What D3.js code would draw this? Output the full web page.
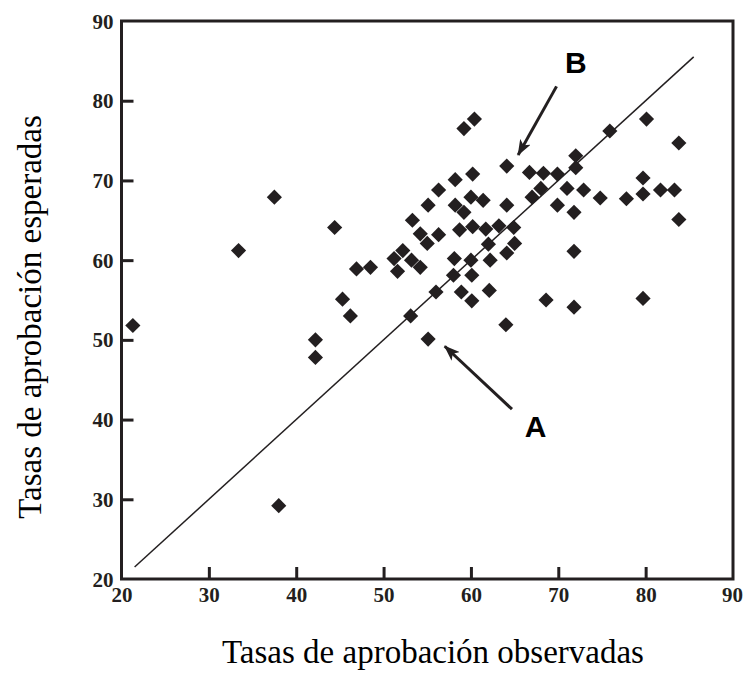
<!DOCTYPE html>
<html>
<head>
<meta charset="utf-8">
<script src="https://cdn.jsdelivr.net/npm/d3@7/dist/d3.min.js"></script>
<style>
  body { margin: 0; background: #fff; }
  svg { display: block; }
</style>
</head>
<body>
<svg class="scatter"></svg>
<script>
var obsRates = [21.3, 33.4, 37.5, 38.0, 42.2, 42.2, 44.4, 45.3, 46.2, 46.9,
                48.5, 51.2, 51.6, 52.2, 53.2, 53.3, 54.2, 54.2, 55.0, 55.1,
                56.3, 56.3, 53.1, 55.1, 56.0, 58.2, 58.2, 58.7, 58.1, 58.0,
                58.9, 59.2, 60.4, 60.2, 60.0, 59.2, 60.2, 60.0, 60.1, 60.1,
                61.4, 61.7, 62.0, 62.2, 62.1, 63.2, 64.1, 64.1, 64.9, 65.0,
                64.1, 64.0, 66.7, 68.3, 68.0, 67.0, 68.6, 69.9, 69.9, 71.0,
                72.0, 72.0, 72.9, 71.8, 71.8, 71.8, 74.8, 75.9, 77.8, 79.7,
                79.7, 80.1, 79.7, 81.7, 83.3, 83.8, 83.8];
var expRates = [51.8, 61.2, 67.9, 29.2, 50.0, 47.8, 64.1, 55.1, 53.0, 58.9,
                59.1, 60.2, 58.6, 61.2, 60.0, 65.0, 63.3, 59.1, 62.1, 66.9,
                63.2, 68.8, 53.0, 50.1, 56.0, 70.1, 66.9, 63.8, 60.2, 58.1,
                56.0, 76.5, 77.7, 70.8, 67.9, 66.0, 64.2, 60.0, 58.1, 54.9,
                67.5, 63.9, 62.0, 60.0, 56.2, 64.3, 71.8, 66.9, 64.1, 62.1,
                60.9, 51.9, 71.0, 70.9, 69.0, 67.9, 55.0, 70.8, 66.9, 69.0,
                73.1, 71.6, 68.8, 66.0, 61.1, 54.1, 67.8, 76.2, 67.7, 70.3,
                68.3, 77.7, 55.2, 68.8, 68.8, 74.7, 65.1];

var xTicks = [20, 30, 40, 50, 60, 70, 80, 90];
var yTicks = [20, 30, 40, 50, 60, 70, 80, 90];

// identity reference line (start, end)
var refLine = [21.5, 85.5];

// annotations: label, label pos, arrow tail, arrow tip (data units)
var noteLabels = ["B", "A"];
var noteLabelX = [72.0, 67.4];
var noteLabelY = [83.5, 37.8];
var arrowFromX = [69.8, 64.7];
var arrowFromY = [81.8, 41.3];
var arrowToX = [65.4, 57.0];
var arrowToY = [73.2, 49.2];

var xTitle = "Tasas de aprobación observadas";
var yTitle = "Tasas de aprobación esperadas";

var ink = "#231f20";

var margin = {top: 21, right: 11, bottom: 94, left: 121.5},
    width = 744 - margin.left - margin.right,
    height = 673 - margin.top - margin.bottom;

var svg = d3.select(".scatter")
    .attr("width", 744)
    .attr("height", 673);

var defs = svg.append("defs");
defs.append("marker")
    .attr("id", "arrowhead")
    .attr("markerUnits", "userSpaceOnUse")
    .attr("viewBox", "0 0 16 12")
    .attr("refX", 15)
    .attr("refY", 6)
    .attr("markerWidth", 16)
    .attr("markerHeight", 12)
    .attr("orient", "auto")
  .append("path")
    .attr("d", "M0,0 L16,6 L0,12 L4,6 Z")
    .attr("fill", ink);

var g = svg.append("g")
    .attr("transform", "translate(" + margin.left + "," + margin.top + ")");

var x = d3.scaleLinear()
    .domain([20, 90])
    .range([0, width]);

var y = d3.scaleLinear()
    .domain([20, 90])
    .range([height, 0]);

// axes with inward ticks
var xAxis = d3.axisBottom(x)
    .tickValues(xTicks)
    .tickFormat(d3.format("d"))
    .tickSizeInner(-12)
    .tickSizeOuter(0)
    .tickPadding(8);

var yAxis = d3.axisLeft(y)
    .tickValues(yTicks)
    .tickFormat(d3.format("d"))
    .tickSizeInner(-12)
    .tickSizeOuter(0)
    .tickPadding(8);

var gx = g.append("g")
    .attr("transform", "translate(0," + height + ")")
    .call(xAxis);

var gy = g.append("g")
    .call(yAxis);

[gx, gy].forEach(function(a){
  a.select(".domain").remove();
  a.selectAll(".tick line")
      .attr("stroke", ink)
      .attr("stroke-width", 3);
  a.selectAll(".tick text")
      .attr("fill", ink)
      .style("font-family", "'Liberation Serif', 'Times New Roman', serif")
      .style("font-weight", "bold")
      .style("font-size", "21px");
});
// end ticks sit on the frame
gx.selectAll(".tick line").filter(function(d){ return d == 20 || d == 90; }).remove();
gy.selectAll(".tick line").filter(function(d){ return d == 20 || d == 90; }).remove();
gy.selectAll(".tick text").attr("dy", "0.34em");
// keep last x label inside the page
gx.selectAll(".tick text").filter(function(d){ return d == 90; }).attr("dx", "-1");

// frame
g.append("rect")
    .attr("x", x(20))
    .attr("y", y(90))
    .attr("width", x(90) - x(20))
    .attr("height", y(20) - y(90))
    .attr("fill", "none")
    .attr("stroke", ink)
    .attr("stroke-width", 3);

// y = x line
g.append("line")
    .attr("x1", x(refLine[0]))
    .attr("y1", y(refLine[0]))
    .attr("x2", x(refLine[1]))
    .attr("y2", y(refLine[1]))
    .attr("stroke", ink)
    .attr("stroke-width", 1.5);

// points as diamonds
var diamond = d3.symbol().type(d3.symbolSquare).size(115);
g.selectAll(".pt")
    .data(obsRates)
    .enter().append("path")
    .attr("class", "pt")
    .attr("d", diamond)
    .attr("transform", function(d, i) {
      return "translate(" + x(d) + "," + y(expRates[i]) + ") rotate(45)";
    })
    .attr("fill", ink);

// arrows and letters
noteLabels.forEach(function(lbl, i){
  g.append("line")
      .attr("x1", x(arrowFromX[i]))
      .attr("y1", y(arrowFromY[i]))
      .attr("x2", x(arrowToX[i]))
      .attr("y2", y(arrowToY[i]))
      .attr("stroke", ink)
      .attr("stroke-width", 3)
      .attr("marker-end", "url(#arrowhead)");
  g.append("text")
      .attr("x", x(noteLabelX[i]))
      .attr("y", y(noteLabelY[i]))
      .attr("text-anchor", "middle")
      .attr("fill", "#000")
      .style("font-family", "'Liberation Sans', Arial, sans-serif")
      .style("font-weight", "bold")
      .style("font-size", "30px")
      .text(lbl);
});

// axis titles
svg.append("text")
    .attr("x", 433)
    .attr("y", 663)
    .attr("text-anchor", "middle")
    .attr("fill", "#000")
    .style("font-family", "'Liberation Serif', 'Times New Roman', serif")
    .style("font-size", "33px")
    .text(xTitle);

svg.append("text")
    .attr("transform", "translate(41,317) rotate(-90)")
    .attr("text-anchor", "middle")
    .attr("fill", "#000")
    .style("font-family", "'Liberation Serif', 'Times New Roman', serif")
    .style("font-size", "33px")
    .text(yTitle);
</script>
</body>
</html>
